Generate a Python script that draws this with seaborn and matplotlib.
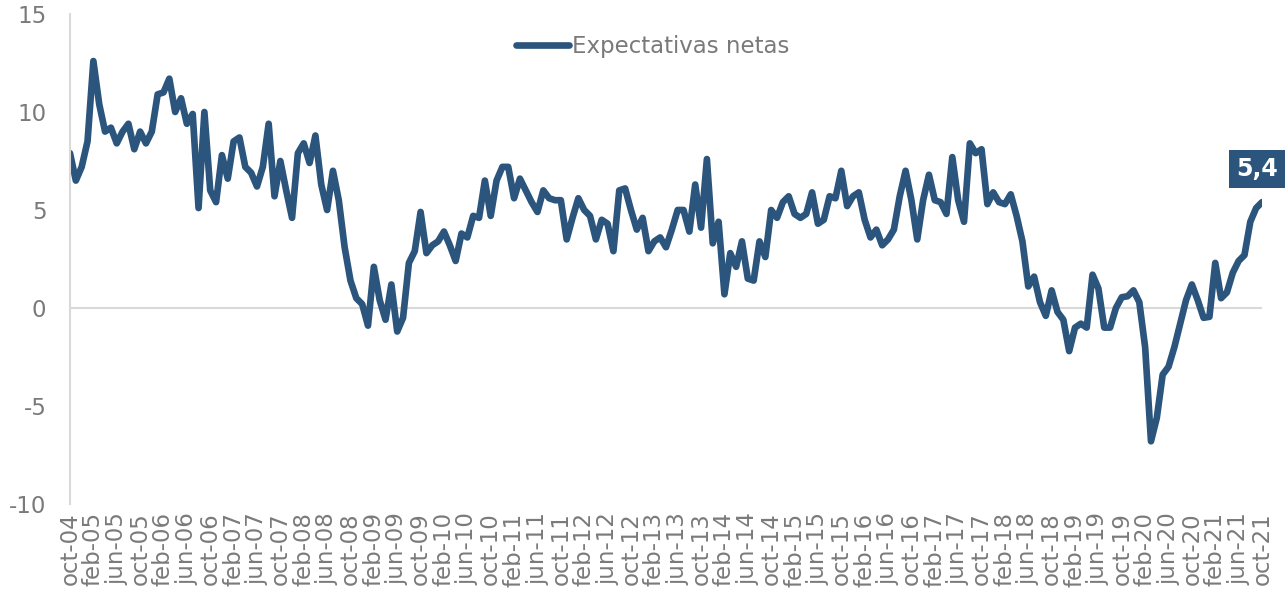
import pandas as pd
import matplotlib
matplotlib.use('Agg')
from matplotlib import pyplot as plt
import seaborn as sns

# Expectativas netas, mensual desde oct-04 hasta oct-21 (una fila = oct..sep)
expectativas = [
    7.9, 6.5, 7.2, 8.5, 12.6, 10.4, 9.0, 9.2, 8.4, 9.0, 9.4, 8.1,
    9.0, 8.4, 9.0, 10.9, 11.0, 11.7, 10.0, 10.7, 9.4, 9.9, 5.1, 10.0,
    6.0, 5.4, 7.8, 6.6, 8.5, 8.7, 7.2, 6.9, 6.2, 7.2, 9.4, 5.7,
    7.5, 6.0, 4.6, 7.9, 8.4, 7.4, 8.8, 6.3, 5.0, 7.0, 5.5, 3.1,
    1.4, 0.5, 0.2, -0.9, 2.1, 0.4, -0.6, 1.2, -1.2, -0.5, 2.3, 2.9,
    4.9, 2.8, 3.2, 3.4, 3.9, 3.2, 2.4, 3.8, 3.6, 4.7, 4.6, 6.5,
    4.7, 6.5, 7.2, 7.2, 5.6, 6.6, 6.0, 5.4, 4.9, 6.0, 5.6, 5.5,
    5.5, 3.5, 4.6, 5.6, 5.0, 4.7, 3.5, 4.5, 4.3, 2.9, 6.0, 6.1,
    5.0, 4.0, 4.6, 2.9, 3.4, 3.6, 3.1, 4.0, 5.0, 5.0, 3.9, 6.3,
    4.1, 7.6, 3.3, 4.4, 0.7, 2.8, 2.1, 3.4, 1.5, 1.4, 3.4, 2.6,
    5.0, 4.6, 5.4, 5.7, 4.8, 4.6, 4.8, 5.9, 4.3, 4.5, 5.7, 5.6,
    7.0, 5.2, 5.7, 5.9, 4.5, 3.6, 4.0, 3.2, 3.5, 4.0, 5.7, 7.0,
    5.5, 3.5, 5.5, 6.8, 5.5, 5.4, 4.8, 7.7, 5.5, 4.4, 8.4, 7.9,
    8.1, 5.3, 5.9, 5.4, 5.3, 5.8, 4.7, 3.4, 1.1, 1.6, 0.3, -0.4,
    0.9, -0.2, -0.6, -2.2, -1.0, -0.8, -1.0, 1.7, 1.0, -1.0, -1.0, 0.0,
    0.55, 0.6, 0.9, 0.3, -2.0, -6.8, -5.6, -3.4, -3.0, -2.0, -0.8, 0.4,
    1.2, 0.4, -0.5, -0.45, 2.3, 0.5, 0.8, 1.8, 2.4, 2.7, 4.4, 5.1, 5.4,
]

meses = ['ene', 'feb', 'mar', 'abr', 'may', 'jun', 'jul', 'ago', 'sep', 'oct', 'nov', 'dic']
fechas = pd.date_range('2004-10-01', periods=len(expectativas), freq='MS')
etiquetas = [f"{meses[d.month - 1]}-{d.year % 100:02d}" for d in fechas]

df = pd.DataFrame({'n': range(len(expectativas)), 'valor': expectativas})

azul = '#2b557d'
gris = '#7a7a7a'

sns.set_style('white')
plt.rcParams['font.family'] = ['DejaVu Sans']
plt.rcParams['axes.unicode_minus'] = False

fig = plt.figure(figsize=(12.87, 6.03), dpi=100)
ax = fig.add_axes([70 / 1287, 1 - 504 / 603, 1192 / 1287, 490 / 603])

ax.axhline(0, color='#d9d9d9', lw=1.5, zorder=0)
sns.lineplot(data=df, x='n', y='valor', color=azul, linewidth=4.8, ax=ax,
             label='Expectativas netas', solid_joinstyle='round', solid_capstyle='round')

ax.set_xlim(0, len(expectativas) - 1)
ax.set_ylim(-10, 15)
ax.set_yticks(range(-10, 16, 5))
ax.set_xticks(range(0, len(expectativas), 4))
ax.set_xticklabels(etiquetas[::4], rotation=90)
ax.set_xlabel('')
ax.set_ylabel('')

for s in ['top', 'right', 'bottom']:
    ax.spines[s].set_visible(False)
ax.spines['left'].set_color('#d9d9d9')
ax.spines['left'].set_linewidth(1.5)

ax.tick_params(axis='both', length=0, labelsize=16.5, colors=gris)
ax.tick_params(axis='y', pad=17)
ax.tick_params(axis='x', pad=6)

leg = ax.legend(loc='upper center', bbox_to_anchor=(0.489, 1.0), frameon=False,
                fontsize=16.5, handlelength=2.3, handletextpad=0.15)
for t in leg.get_texts():
    t.set_color(gris)

ultimo = expectativas[-1]
ax.annotate(f"{ultimo:.1f}".replace('.', ','), xy=(len(expectativas) - 1, ultimo),
            xytext=(-3.6, 24), textcoords='offset points', ha='center', va='center',
            color='white', fontweight='bold', fontsize=17,
            bbox=dict(boxstyle='square,pad=0.3', fc=azul, ec='none'),
            annotation_clip=False)

fig.savefig('out.png', dpi=100)
